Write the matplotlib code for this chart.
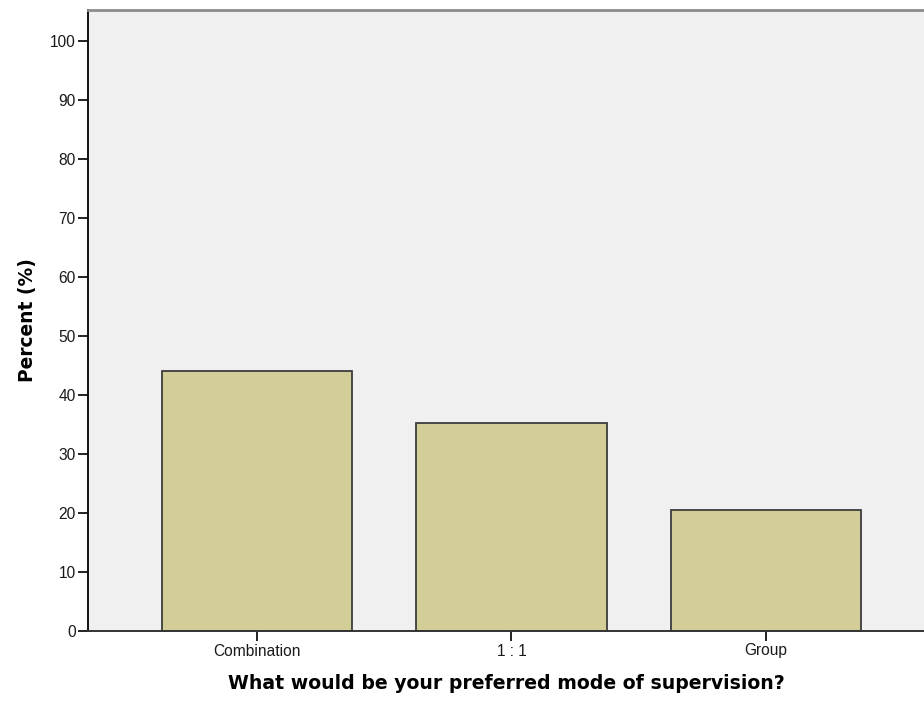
import matplotlib.pyplot as plt

# Preferred mode of supervision (percent)
categories = ["Combination", "1 : 1", "Group"]
percent = [44.1, 35.3, 20.6]
yticks = list(range(0, 101, 10))

fig = plt.figure(figsize=(9.24, 7.02), dpi=100)
ax = fig.add_axes([88 / 924, 71 / 702, 1 - 88 / 924, 621 / 702])
ax.set_facecolor("#f0f0f0")

x = range(len(categories))
ax.bar(x, percent, width=0.75, color="#d3ce97", edgecolor="#3c3c3c", linewidth=1.3, zorder=2)

ax.set_xlim(-0.664, 2.621)
ax.set_ylim(0, 105.3)
ax.set_xticks(list(x))
ax.set_xticklabels(categories, family="Liberation Sans", fontsize=11.2, color="#1a1a1a")
ax.set_yticks(yticks)
ax.set_yticklabels([str(t) for t in yticks], family="Liberation Sans", fontsize=11.2, color="#1a1a1a")
ax.tick_params(axis="both", direction="out", length=7, width=1.4, color="#222222", pad=2)

ax.spines["right"].set_visible(False)
ax.spines["top"].set_color("#8c8c8c")
ax.spines["top"].set_linewidth(2)
ax.spines["left"].set_color("#111111")
ax.spines["left"].set_linewidth(1.4)
ax.spines["bottom"].set_color("#333333")
ax.spines["bottom"].set_linewidth(1.4)

ax.set_xlabel("What would be your preferred mode of supervision?", family="DejaVu Sans",
              fontweight="bold", fontsize=13.6, labelpad=11)
ax.set_ylabel("Percent (%)", family="DejaVu Sans", fontweight="bold", fontsize=13.4, labelpad=9)

fig.savefig("out.png", dpi=100)
